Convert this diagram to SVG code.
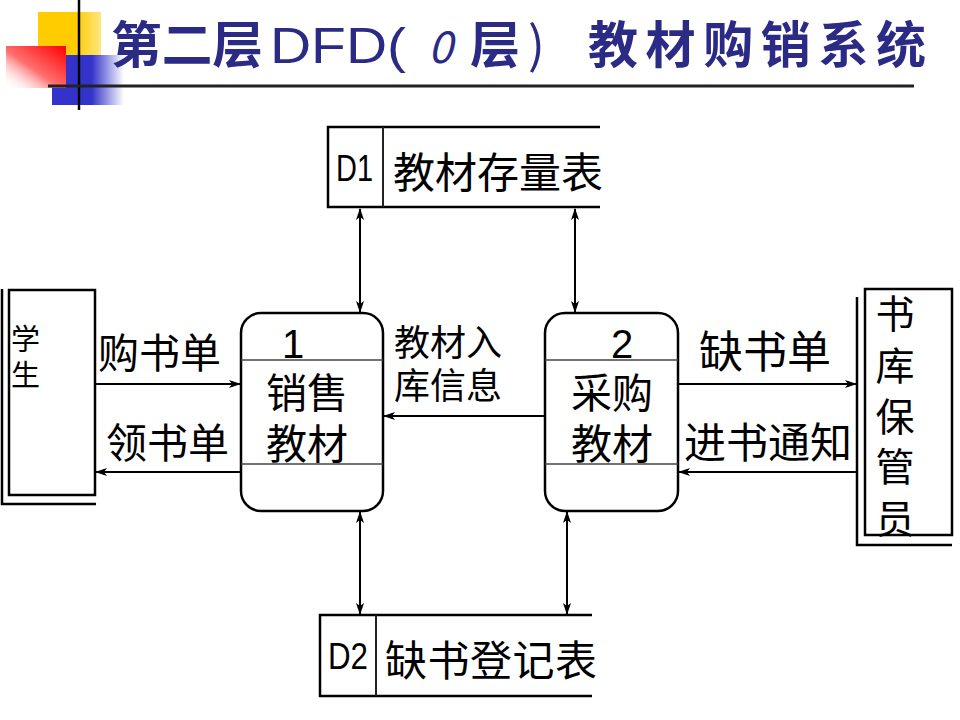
<svg xmlns="http://www.w3.org/2000/svg" width="960" height="720" viewBox="0 0 960 720">
<style>
.t{font-family:"Noto Sans CJK SC","Liberation Sans",sans-serif;fill:#000}
.ttl{font-family:"Noto Sans CJK SC","Liberation Sans",sans-serif;fill:#2B2B86;font-weight:bold}
.box{fill:#fff;stroke:#000;stroke-width:2.5}
.ln{fill:none;stroke:#000;stroke-width:2.5}
.div{stroke:#444;stroke-width:1.5}
.flow{fill:none;stroke:#000;stroke-width:2}
</style>
<defs>
<marker id="ah" markerUnits="userSpaceOnUse" markerWidth="12" markerHeight="8" refX="11" refY="4" orient="auto-start-reverse">
<path d="M0,0 L12,4 L0,8 L3,4 z" fill="#000"/>
</marker>
<linearGradient id="gy" x1="0" y1="0" x2="1" y2="0"><stop offset="0.6" stop-color="#FFCC00"/><stop offset="1" stop-color="#FFE680"/></linearGradient>
<linearGradient id="gr" x1="1" y1="0" x2="0" y2="1"><stop offset="0" stop-color="#FF0000"/><stop offset="0.55" stop-color="#FF7070"/><stop offset="1" stop-color="#FFFFFF" stop-opacity="0"/></linearGradient>
<linearGradient id="gb" x1="0" y1="0" x2="1" y2="0"><stop offset="0.55" stop-color="#3333CC"/><stop offset="1" stop-color="#3333CC" stop-opacity="0"/></linearGradient>
</defs>

<g id="title-decor">
<rect x="38" y="12" width="63" height="44" fill="url(#gy)"/>
<rect x="52" y="55" width="72" height="50" fill="url(#gb)"/>
<rect x="6" y="46" width="60" height="42" fill="url(#gr)"/>
<line x1="79" y1="0" x2="79" y2="110" stroke="#000" stroke-width="2.5"/>
<line x1="48" y1="86" x2="914" y2="86" stroke="#222" stroke-width="3"/>
</g>
<g id="title">
<text class="ttl" x="111" y="63" font-size="50" textLength="152" lengthAdjust="spacingAndGlyphs">第二层</text>
<text class="ttl" x="270" y="63" font-size="50" style="font-family:'Liberation Sans',sans-serif;font-weight:normal" textLength="136" lengthAdjust="spacingAndGlyphs">DFD(</text>
<text class="ttl" x="428" y="63" font-size="44" font-style="italic" style="font-weight:normal">0</text>
<text class="ttl" x="470" y="63" font-size="50">层</text>
<text class="ttl" x="528" y="63" font-size="50" style="font-weight:normal">)</text>
<text class="ttl" x="588" y="63" font-size="50" textLength="338" lengthAdjust="spacing">教材购销系统</text>
</g>

<g id="student">
<polyline class="ln" points="2,289 2,504 96,504"/>
<rect class="box" x="9" y="290" width="86" height="205"/>
<text class="t" font-size="29"><tspan x="11" y="350">学</tspan><tspan x="11" y="386">生</tspan></text>
</g>

<g id="keeper">
<polyline class="ln" points="857,297 857,545 952,545"/>
<rect class="box" x="865" y="289" width="87" height="246"/>
<text class="t" font-size="39" text-anchor="middle"><tspan x="895" y="328">书</tspan><tspan x="895" y="380">库</tspan><tspan x="895" y="431">保</tspan><tspan x="895" y="481">管</tspan><tspan x="895" y="533">员</tspan></text>
</g>

<g id="p1">
<rect class="box" x="241" y="313" width="142" height="198" rx="20" ry="20"/>
<line class="div" x1="241" y1="360" x2="383" y2="360"/>
<line class="div" x1="241" y1="464" x2="383" y2="464"/>
<text class="t" x="293" y="358" font-size="40" text-anchor="middle" style="font-family:'Liberation Sans',sans-serif">1</text>
<text class="t" font-size="41" text-anchor="middle"><tspan x="307" y="408">销售</tspan><tspan x="307" y="459">教材</tspan></text>
</g>

<g id="p2">
<rect class="box" x="545" y="313" width="133" height="198" rx="20" ry="20"/>
<line class="div" x1="545" y1="360" x2="678" y2="360"/>
<line class="div" x1="545" y1="464" x2="678" y2="464"/>
<text class="t" x="622" y="358" font-size="40" text-anchor="middle" style="font-family:'Liberation Sans',sans-serif">2</text>
<text class="t" font-size="41" text-anchor="middle"><tspan x="612" y="408">采购</tspan><tspan x="612" y="459">教材</tspan></text>
</g>

<g id="d1">
<polyline class="ln" points="600,127 328,127 328,207 600,207"/>
<line x1="383" y1="127" x2="383" y2="207" stroke="#222" stroke-width="2"/>
<text class="t" x="336" y="181" font-size="36" style="font-family:'Liberation Sans',sans-serif" textLength="37" lengthAdjust="spacingAndGlyphs">D1</text>
<text class="t" x="393" y="188" font-size="42" textLength="210" lengthAdjust="spacing">教材存量表</text>
</g>

<g id="d2">
<polyline class="ln" points="592,615 320,615 320,696 592,696"/>
<line x1="376" y1="615" x2="376" y2="696" stroke="#222" stroke-width="2"/>
<text class="t" x="328" y="669" font-size="36" style="font-family:'Liberation Sans',sans-serif" textLength="40" lengthAdjust="spacingAndGlyphs">D2</text>
<text class="t" x="385" y="676" font-size="42" textLength="212" lengthAdjust="spacing">缺书登记表</text>
</g>

<g id="connectors">
<line class="flow" x1="95" y1="384" x2="240" y2="384" marker-end="url(#ah)"/>
<line class="flow" x1="241" y1="472" x2="96" y2="472" marker-end="url(#ah)"/>
<line class="flow" x1="545" y1="416" x2="384" y2="416" marker-end="url(#ah)"/>
<line class="flow" x1="678" y1="384" x2="856" y2="384" marker-end="url(#ah)"/>
<line class="flow" x1="857" y1="472" x2="679" y2="472" marker-end="url(#ah)"/>
<line class="flow" x1="360" y1="209" x2="360" y2="312" marker-start="url(#ah)" marker-end="url(#ah)"/>
<line class="flow" x1="575" y1="209" x2="575" y2="312" marker-start="url(#ah)" marker-end="url(#ah)"/>
<line class="flow" x1="360" y1="512" x2="360" y2="614" marker-start="url(#ah)" marker-end="url(#ah)"/>
<line class="flow" x1="567" y1="512" x2="567" y2="614" marker-start="url(#ah)" marker-end="url(#ah)"/>
<text class="t" x="98" y="368" font-size="41">购书单</text>
<text class="t" x="106" y="458" font-size="41">领书单</text>
<text class="t" font-size="36"><tspan x="394" y="356">教材入</tspan><tspan x="394" y="399">库信息</tspan></text>
<text class="t" x="699" y="368" font-size="44">缺书单</text>
<text class="t" x="684" y="458" font-size="42">进书通知</text>
</g>
</svg>
